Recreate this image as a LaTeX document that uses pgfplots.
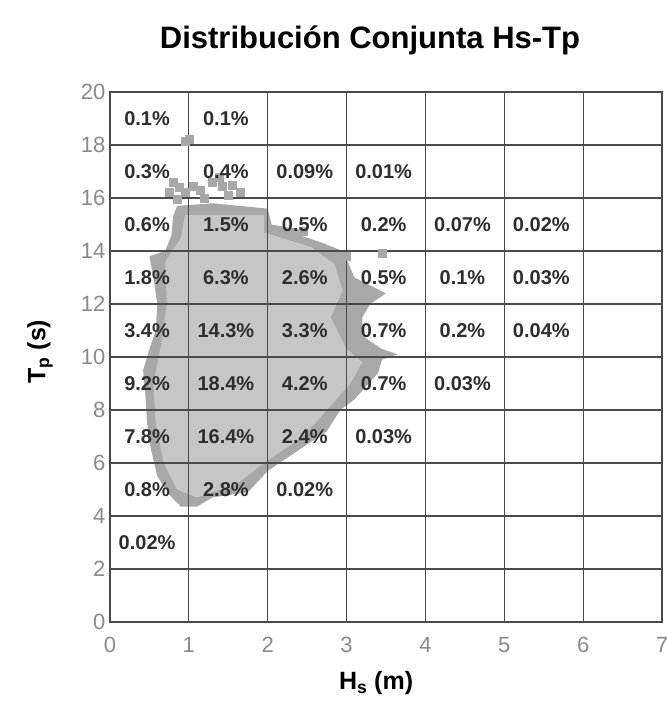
\documentclass[border=0pt]{standalone}
\usepackage{fontspec}
\setmainfont{Liberation Sans}
\usepackage{pgfplots}
\usepackage{pgfplotstable}
\pgfplotsset{compat=1.18}

\definecolor{gridc}{HTML}{4A4A4A}
\definecolor{tickc}{HTML}{8A8A8A}
\definecolor{cloudout}{HTML}{A8A8A8}
\definecolor{cloudin}{HTML}{C6C6C6}

% percentage of occurrences in each Hs (1 m) x Tp (2 s) cell
\pgfplotstableread{
x    y   lab
0.47 19  0.1
1.47 19  0.1
0.47 17  0.3
1.47 17  0.4
2.47 17  0.09
3.47 17  0.01
0.47 15  0.6
1.47 15  1.5
2.47 15  0.5
3.47 15  0.2
4.47 15  0.07
5.47 15  0.02
0.47 13  1.8
1.47 13  6.3
2.47 13  2.6
3.47 13  0.5
4.47 13  0.1
5.47 13  0.03
0.47 11  3.4
1.47 11  14.3
2.47 11  3.3
3.47 11  0.7
4.47 11  0.2
5.47 11  0.04
0.47 9   9.2
1.47 9   18.4
2.47 9   4.2
3.47 9   0.7
4.47 9   0.03
0.47 7   7.8
1.47 7   16.4
2.47 7   2.4
3.47 7   0.03
0.47 5   0.8
1.47 5   2.8
2.47 5   0.02
0.47 3   0.02
}\celltab

\begin{document}
\begin{tikzpicture}
\begin{axis}[
  scale only axis, width=552pt, height=530pt,
  xmin=0, xmax=7, ymin=0, ymax=20,
  xtick={0,...,7}, ytick={0,2,...,20},
  grid=major,
  major grid style={gridc, line width=1.1pt},
  axis line style={gridc, line width=1.1pt},
  major tick length=0pt,
  axis on top,
  /pgf/number format/assume math mode=true,
  tick label style={tickc, font=\fontsize{22}{22}\selectfont},
  xticklabel style={yshift=-12pt},
  yticklabel style={xshift=-1pt},
  title={\bfseries Distribución Conjunta Hs-Tp},
  title style={font=\fontsize{31}{31}\selectfont, at={(axis description cs:0.471,1)}, anchor=south, yshift=28pt},
  xlabel={\bfseries H\textsubscript{s} (m)},
  xlabel style={font=\fontsize{25}{25}\selectfont, at={(axis description cs:0.482,0)}, anchor=center, yshift=-61pt},
  ylabel={\bfseries T\textsubscript{p} (s)},
  ylabel style={font=\fontsize{25}{25}\selectfont, at={(axis description cs:-0.127,0.51)}, anchor=center},
]
% measured sea states: outer envelope of the cloud
\addplot[fill=cloudout, draw=none] coordinates {
(0.85,15.7) (1.3,15.8) (2.0,15.6) (2.05,15.0) (2.4,14.8) (2.4,14.6) (2.7,14.3)
(2.95,14.0) (3.0,13.7) (3.1,13.0) (3.5,12.4) (3.3,12.0) (3.2,11.5) (3.2,10.8)
(3.45,10.3) (3.65,10.1) (3.45,9.9) (3.4,9.4) (3.1,8.4) (2.92,8.0) (2.75,7.2)
(2.4,6.5) (2.0,5.7) (1.75,4.9) (1.3,4.7) (1.1,4.35) (0.9,4.35) (0.75,4.8)
(0.6,5.5) (0.52,6.5) (0.47,7.5) (0.45,8.5) (0.42,9.5) (0.5,10.3) (0.58,11)
(0.6,12) (0.55,13) (0.5,13.8) (0.7,14) (0.78,14.6) (0.8,15.3)
} -- cycle;
% denser core
\addplot[fill=cloudin, draw=none] coordinates {
(0.95,15.35) (1.95,15.35) (1.95,14.7) (2.55,14.15) (2.85,13.5) (2.95,12.5) (2.8,11.5)
(3.0,10.3) (3.2,9.8) (3.05,9.0) (2.72,7.9) (2.45,7.0) (2.0,6.1) (1.6,5.2)
(1.1,4.7) (0.85,5.0) (0.68,6.0) (0.58,7.5) (0.55,9) (0.65,10.5) (0.72,12)
(0.7,13.6) (0.9,14.5)
} -- cycle;
% isolated long-period records
\addplot[only marks, mark=square*, mark size=4pt, cloudout, mark options={draw=none}] coordinates {
(1.0,18.2) (0.95,18.15) (0.8,16.6) (0.88,16.4) (0.95,16.2) (1.05,16.45) (1.15,16.3)
(1.3,16.6) (1.42,16.45) (1.38,16.8) (1.55,16.5) (1.2,16.0) (0.75,16.2) (0.85,15.95)
(1.5,16.1) (1.65,16.2) (2.3,14.7) (2.45,14.75) (3.0,13.8) (3.45,13.9)
};
% cell percentages
\addplot[only marks, mark=none, nodes near coords={\pgfplotspointmeta\%},
  point meta=explicit symbolic, nodes near coords align=center,
  every node near coord/.append style={font=\fontsize{20}{20}\selectfont\bfseries, text=black!82, anchor=center}]
  table[x=x, y=y, meta=lab] {\celltab};
\coordinate (ll) at (rel axis cs:0,0);
\coordinate (ur) at (rel axis cs:1,1);
\end{axis}
\pgfresetboundingbox
\path ([shift={(-110pt,-80pt)}]ll) rectangle ([shift={(5pt,92pt)}]ur);
\end{tikzpicture}
\end{document}
